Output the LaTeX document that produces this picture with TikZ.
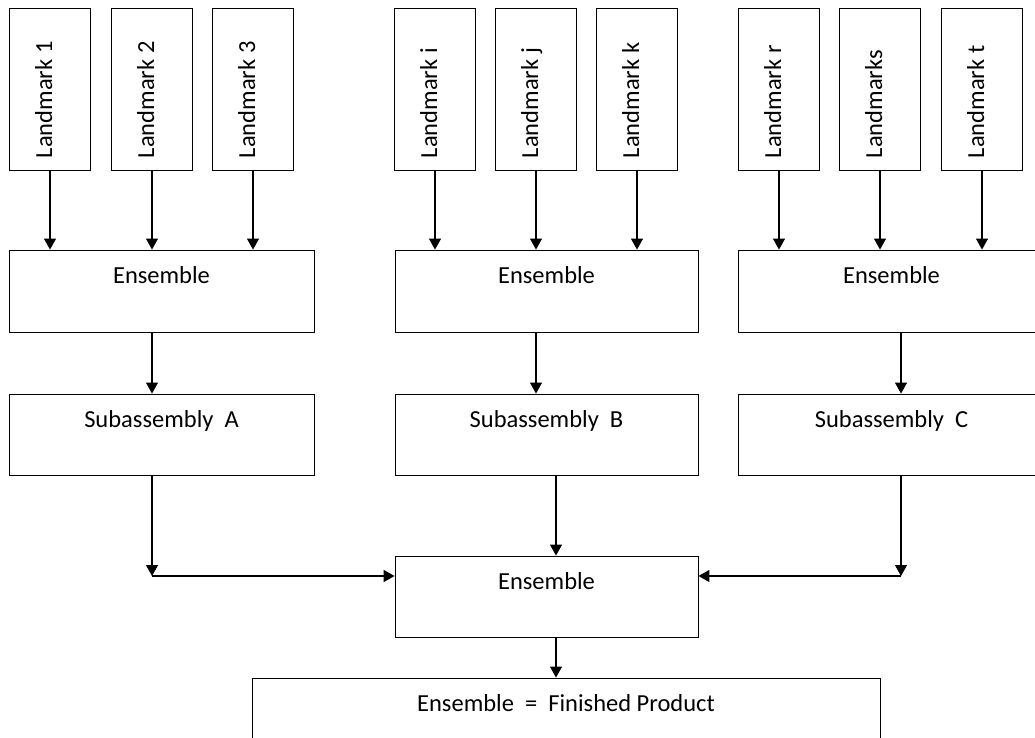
\documentclass[tikz,border=0pt]{standalone}
\usepackage{fontspec}
\setmainfont{Carlito}
\usetikzlibrary{arrows.meta}
\tikzset{
  lbl/.style={font=\fontsize{24.5}{29}\selectfont},
  lmbox/.style={draw=black, line width=0.9pt, minimum width=81pt, minimum height=162pt, inner sep=0pt},
  lmtext/.style={lbl, rotate=90, anchor=base west, inner sep=0pt},
  hbox/.style={lbl, draw=black, line width=0.9pt, inner sep=0pt, text height=33pt, text depth=#1},
  hbox/.default=49pt,
  arr/.style={-{Triangle[length=11pt,width=12pt]}, line width=1.3pt},
}
\begin{document}
\begin{tikzpicture}[x=1pt,y=-1pt]
\useasboundingbox (0,0) rectangle (1035,738);
% landmark boxes
\foreach \n/\x/\t in {L1/50/Landmark 1, L2/152/Landmark 2, L3/253/Landmark 3,
                       Li/435/Landmark i, Lj/536/Landmark j, Lk/637/Landmark k,
                       Lr/779/Landmark r, Ls/880/Landmarks, Lt/982/Landmark t}{
  \node[lmbox] (\n) at (\x,89) {};
  \node[lmtext] (\n-t) at ([xshift=2pt,yshift=12pt]\n.south) {\t};
}
% ensemble boxes
\node[hbox, minimum width=305pt] (ensA) at (161.5,291) {Ensemble};
\node[hbox, minimum width=303pt] (ensB) at (546.5,291) {Ensemble};
\node[hbox, minimum width=307pt] (ensC) at (891.5,291) {Ensemble};
% subassemblies
\node[hbox=48pt, minimum width=305pt] (subA) at (161.5,434.5) {Subassembly\ \ A};
\node[hbox=48pt, minimum width=303pt] (subB) at (546.5,434.5) {Subassembly\ \ B};
\node[hbox=48pt, minimum width=307pt] (subC) at (891.5,434.5) {Subassembly\ \ C};
% final ensemble and product
\node[hbox=48pt, minimum width=303pt] (fin) at (546.5,596.5) {Ensemble};
\node[hbox=49pt, minimum width=628pt] (prod) at (566,719) {Ensemble\ \ =\ \ Finished Product};
% landmark arrows
\foreach \n/\e in {L1/ensA, L2/ensA, L3/ensA, Li/ensB, Lj/ensB, Lk/ensB, Lr/ensC, Ls/ensC, Lt/ensC}{
  \draw[arr] (\n.south) -- (\n.south |- \e.north);
}
% ensemble -> subassembly
\draw[arr] (ensA.south -| L2.south) -- (subA.north -| L2.south);
\draw[arr] (ensB.south -| Lj.south) -- (subB.north -| Lj.south);
\draw[arr] ([xshift=9.5pt]ensC.south) -- ([xshift=9.5pt]subC.north);
% subassemblies -> final ensemble
\coordinate (jA) at (152,576);
\coordinate (jC) at (901,576);
\draw[arr] (subA.south -| jA) -- (jA);
\draw[arr] (jA) -- (jA -| fin.west);
\draw[arr] (subC.south -| jC) -- (jC);
\draw[arr] (jC) -- (jC -| fin.east);
\draw[arr] ([xshift=9.5pt]subB.south) -- ([xshift=9.5pt]fin.north);
\draw[arr] ([xshift=9.5pt]fin.south) -- ([xshift=9.5pt]fin.south |- prod.north);
\end{tikzpicture}
\end{document}
